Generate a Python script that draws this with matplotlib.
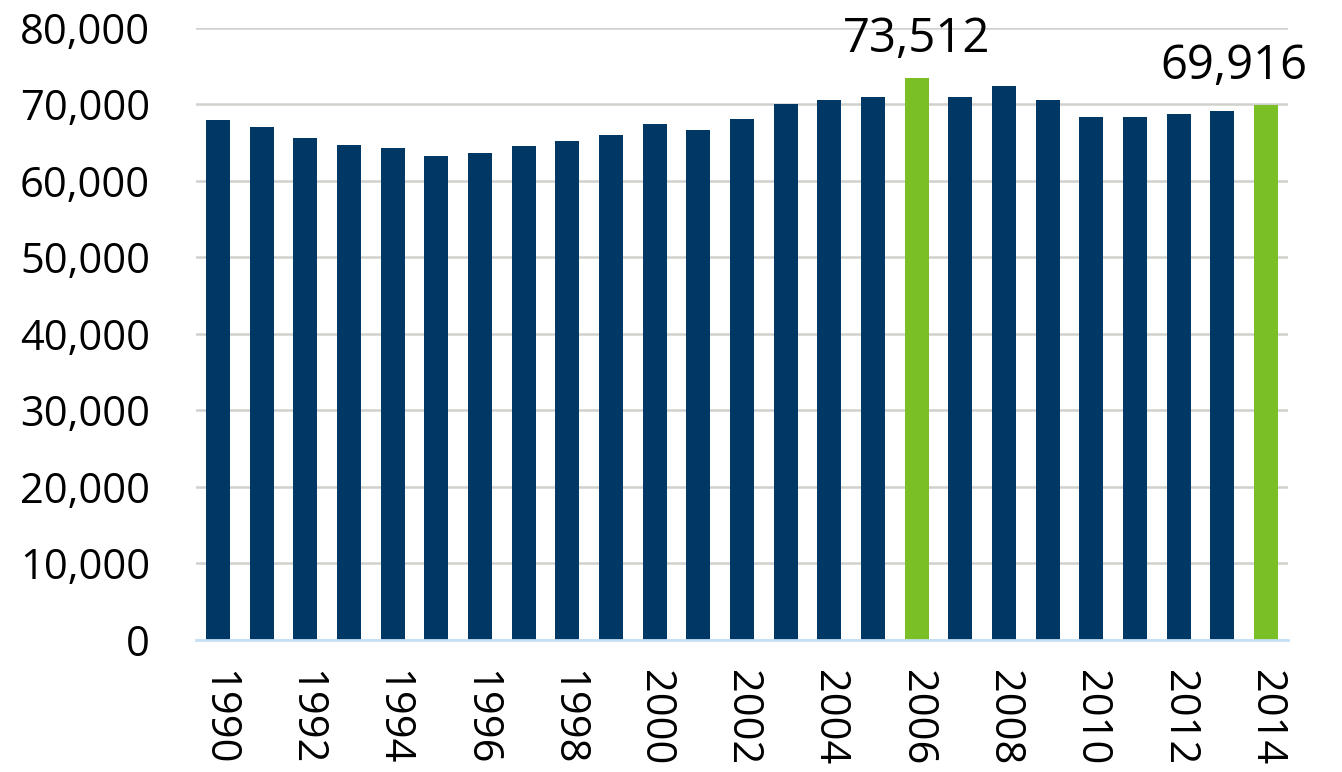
import matplotlib.pyplot as plt
from matplotlib.ticker import FuncFormatter

years = list(range(1990, 2015))
values = [68000, 67040, 65600, 64640, 64290, 63250, 63680, 64500, 65210, 65940,
          67430, 66600, 68040, 70090, 70620, 70920, 73512, 70920, 72360, 70620,
          68390, 68390, 68780, 69180, 69916]
highlight = [2006, 2014]

navy = "#003865"
green = "#7abf26"

plt.rcParams['font.family'] = ['Open Sans', 'DejaVu Sans']

fig = plt.figure(figsize=(13.42, 7.72), dpi=100)
ax = fig.add_axes([196 / 1342, 1 - 639.5 / 772, (1288 - 196) / 1342, (639.5 - 28) / 772])

x = list(range(len(years)))
colors = [green if y in highlight else navy for y in years]
ax.bar(x, values, width=0.55, color=colors, zorder=3)

for i, (y, v) in enumerate(zip(years, values)):
    if y in highlight:
        # last label is nudged left so it stays inside the figure
        dx = -23 if i == len(years) - 1 else 0
        ax.annotate(f"{v:,}", (i, v + 3400), xytext=(dx, 0), textcoords='offset points',
                    ha='center', va='baseline', fontsize=34)

ax.set_ylim(0, 80000)
ax.set_xlim(-0.5, len(years) - 0.5)
ax.set_yticks(range(0, 80001, 10000))
ax.yaxis.set_major_formatter(FuncFormatter(lambda v, p: f"{int(v):,}"))
ax.set_xticks(x[::2])
ax.set_xticklabels([str(y) for y in years[::2]], rotation=270)
ax.tick_params(axis='y', length=0, labelsize=30, pad=33)
ax.tick_params(axis='x', length=0, labelsize=30, pad=22)
ax.grid(axis='y', color='#d0d0cc', linewidth=1.8, zorder=0)
for s in ['top', 'right', 'left']:
    ax.spines[s].set_visible(False)
ax.spines['bottom'].set_color('#c5e0f7')
ax.spines['bottom'].set_linewidth(2)
ax.spines['bottom'].set_zorder(4)

fig.savefig('out.png', dpi=100)
